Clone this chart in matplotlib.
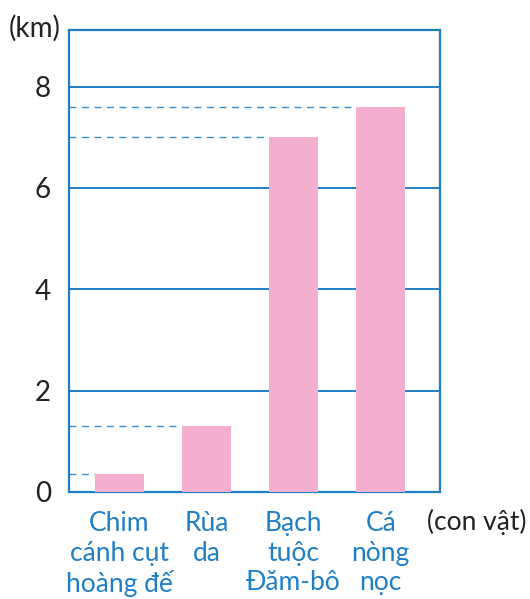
import matplotlib
matplotlib.use("Agg")
import matplotlib.pyplot as plt

plt.rcParams["font.family"] = ["Lato", "DejaVu Sans"]

categories = ["Chim\ncánh cụt\nhoàng đế", "Rùa\nda", "Bạch\ntuộc\nĐăm-bô", "Cá\nnòng\nnọc"]
depths_km = [0.35, 1.3, 7.0, 7.6]
yticks = [0, 2, 4, 6, 8]

BLUE = "#1f7fc6"
DASH = "#3a8fd0"
PINK = "#f4aece"

fig = plt.figure(figsize=(5.3, 5.99), dpi=100)
ax = fig.add_axes([0.130, 0.179, 0.700, 0.771])

x = list(range(len(categories)))
width = 0.56
ax.bar(x, depths_km, width=width, color=PINK, zorder=3)

ax.set_xlim(-0.58, 3.68)
ax.set_ylim(0, 9.12)

ax.set_yticks(yticks)
ax.yaxis.grid(True, color=BLUE, linewidth=1.4, zorder=1)
ax.set_axisbelow(True)

# dashed guides from the axis to each bar top
left = ax.get_xlim()[0]
for xi, v in zip(x, depths_km):
    ax.hlines(v, left, xi - width / 2, colors=DASH, linestyles=(0, (5, 4)),
              linewidth=1.0, zorder=2)

for s in ax.spines.values():
    s.set_color(BLUE)
    s.set_linewidth(1.6)

ax.tick_params(axis="y", length=0, pad=13, labelsize=20, labelcolor="#222222")
ax.set_xticks(x)
ax.set_xticklabels(categories, fontsize=19, color=BLUE, linespacing=1.22,
                   multialignment="center", va="top")
ax.tick_params(axis="x", length=0, pad=14)

fig.text(0.066, 0.953, "(km)", ha="center", va="center", fontsize=20, color="#222222")
fig.text(0.9, 0.128, "(con vật)", ha="center", va="center", fontsize=19, color="#222222")

fig.savefig("out.png", dpi=100, facecolor="white")
